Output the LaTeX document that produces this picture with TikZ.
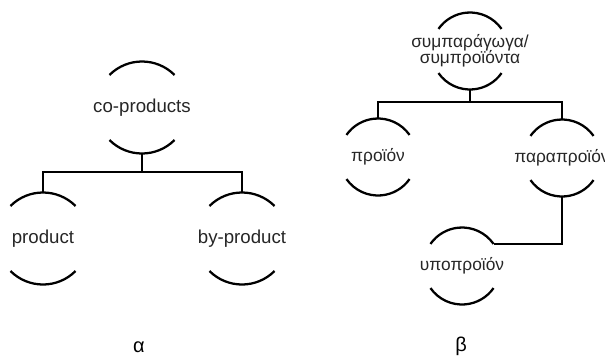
\documentclass[tikz,border=0pt]{standalone}
\usepackage{fontspec}
\setmainfont{Liberation Sans}
\begin{document}
\begin{tikzpicture}[x=0.75pt,y=-0.75pt,
  bigblob/.style={circle, inner sep=0pt, outer sep=0pt, minimum size=69pt,
    label={[font=\fontsize{14}{16}\selectfont, text=black!85]center:#1}},
  smallblob/.style={circle, inner sep=0pt, outer sep=0pt, minimum size=57.75pt,
    label={[font=\fontsize{13}{15}\selectfont, align=center, text=black!85]center:#1}},
  arcline/.style={line width=1.7pt},
  link/.style={line width=1.4pt},
  captext/.style={font=\fontsize{15}{17}\selectfont}]
\useasboundingbox (0,0) rectangle (605,361);

% --- diagram alpha ---
\node[bigblob={co-products}] (co) at (142,107.5) {};
\node[bigblob={product}] (prod) at (43,238.5) {};
\node[bigblob={by-product}] (byp) at (242,238.5) {};
\foreach \n in {co,prod,byp}{
  \draw[arcline] (\n.45) arc[start angle=45, end angle=135, radius=34.5pt];
  \draw[arcline] (\n.225) arc[start angle=225, end angle=315, radius=34.5pt];
}
\coordinate (j1) at (142,172);
\draw[link] (co.south) -- (j1);
\draw[link] (j1) -| (prod.north);
\draw[link] (j1) -| (byp.north);

% --- diagram beta ---
\node[smallblob={συμπαράγωγα/\\[-3pt]συμπροϊόντα}] (top) at (470,51) {};
\node[smallblob={προϊόν}] (pr) at (378,157) {};
\node[smallblob={παραπροϊόν}] (pp) at (562,158) {};
\node[smallblob={υποπροϊόν}] (yp) at (462,266) {};
\foreach \n in {top,pr,pp,yp}{
  \draw[arcline] (\n.35) arc[start angle=35, end angle=145, radius=28.875pt];
  \draw[arcline] (\n.215) arc[start angle=215, end angle=325, radius=28.875pt];
}
\coordinate (j2) at (470,102);
\draw[link] (top.south) -- (j2);
\draw[link] (j2) -| (pr.north);
\draw[link] (j2) -| (pp.north);
\draw[link] (pp.south) |- (yp.35);

% --- captions ---
\node[captext] (ca) at (139,347) {α};
\node[captext] (cb) at (461,346) {β};
\end{tikzpicture}
\end{document}
